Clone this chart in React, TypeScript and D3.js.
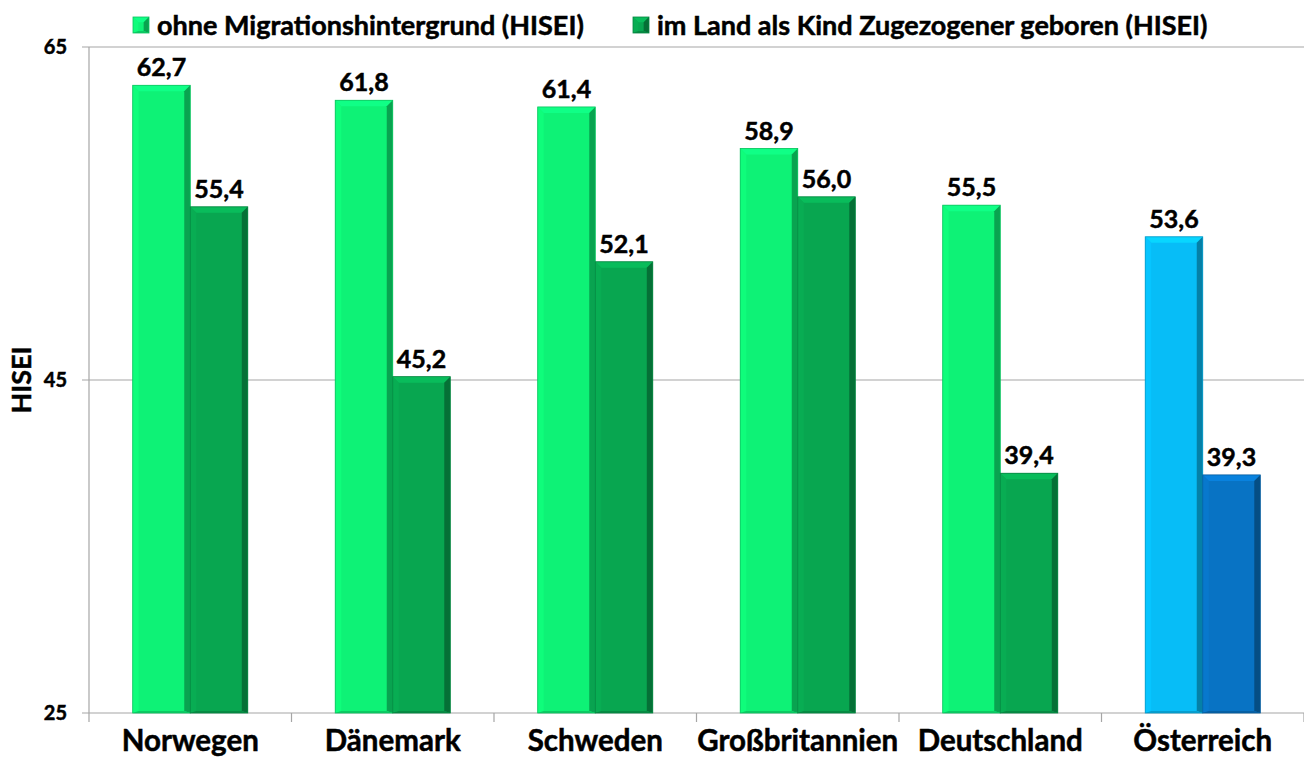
import React from "react";
import * as d3 from "d3";

// data
const countries = ["Norwegen", "Dänemark", "Schweden", "Großbritannien", "Deutschland", "Österreich"];
const seriesNames = ["ohne Migrationshintergrund (HISEI)", "im Land als Kind Zugezogener geboren (HISEI)"];
const ohneMigration = [62.7, 61.8, 61.4, 58.9, 55.5, 53.6];
const kindZugezogen = [55.4, 45.2, 52.1, 56.0, 39.4, 39.3];
const yTicks = [25, 45, 65];

const W = 1304;
const H = 758;
const margin = { top: 47, right: 0, bottom: 45, left: 89 };
const FONT = "Lato, 'Open Sans', sans-serif";

const greens = ["#0ef276", "#08a650"];
const blues = ["#07bdf7", "#0873c4"];

const fmt = (v: number) => d3.format(".1f")(v).replace(".", ",");

// lighter / darker helpers for the bevel faces
const shade = (c: string, k: number) => {
  const col = d3.color(c)!;
  return (k > 0 ? col.brighter(k) : col.darker(-k)).formatHex();
};

// bold text a bit heavier, Calibri-like
const heavy = { fontWeight: "bold" as const, stroke: "#000", strokeWidth: 0.5 };

const Bar = ({ x, y, w, h, color }: { x: number; y: number; w: number; h: number; color: string }) => {
  const b = Math.min(6, w / 3);
  const top = `M${x},${y} L${x + w},${y} L${x + w - b},${y + b} L${x + b},${y + b} Z`;
  const right = `M${x + w},${y} L${x + w},${y + h} L${x + w - b},${y + h - 2} L${x + w - b},${y + b} Z`;
  const left = `M${x},${y} L${x + b},${y + b} L${x + b},${y + h - 2} L${x},${y + h} Z`;
  const bottom = `M${x},${y + h} L${x + b},${y + h - 2} L${x + w - b},${y + h - 2} L${x + w},${y + h} Z`;
  return (
    <g>
      <rect x={x} y={y} width={w} height={h} fill={color} />
      <path d={top} fill={shade(color, 0.35)} />
      <path d={left} fill={shade(color, 0.12)} />
      <path d={right} fill={shade(color, -1.1)} />
      <path d={bottom} fill={shade(color, -0.5)} />
      <rect x={x} y={y} width={w} height={h} fill="none" stroke={shade(color, -0.6)} strokeWidth={0.8} />
    </g>
  );
};

const App = () => {
  const x0 = d3.scaleBand<string>().domain(countries).range([margin.left, W - margin.right]).paddingInner(0).paddingOuter(0);
  const x1 = d3.scaleBand<number>().domain([0, 1]).range([0, x0.bandwidth()]).paddingInner(0).paddingOuter(0.76);
  const y = d3.scaleLinear().domain([25, 65]).range([H - margin.bottom, margin.top]);

  const series = [ohneMigration, kindZugezogen];
  const boundaries = countries.map((c) => x0(c)!).concat([W - margin.right]);

  return (
    <svg width={W} height={H} style={{ position: "absolute", left: 0, top: 0, background: "#fff" }} fontFamily={FONT}>
      {/* gridlines */}
      {yTicks.map((t) => (
        <g key={t}>
          <line x1={margin.left - 7} x2={W - margin.right} y1={y(t)} y2={y(t)} stroke="#a6a6a6" strokeWidth={1.2} />
          <text x={67} y={y(t)} dy="0.35em" textAnchor="end" fontSize={20} {...heavy}>
            {t}
          </text>
        </g>
      ))}
      {/* left axis */}
      <line x1={margin.left} x2={margin.left} y1={margin.top} y2={H - margin.bottom} stroke="#a6a6a6" strokeWidth={1.2} />
      {/* category tick marks */}
      {boundaries.map((b, i) => (
        <line key={i} x1={b} x2={b} y1={H - margin.bottom} y2={H - margin.bottom + 9} stroke="#a6a6a6" strokeWidth={1.2} />
      ))}

      {/* bars */}
      {countries.map((c, i) => {
        const pal = c === "Österreich" ? blues : greens;
        return (
          <g key={c}>
            {series.map((s, j) => {
              const bx = x0(c)! + x1(j)!;
              const by = y(s[i]);
              return (
                <g key={j}>
                  <Bar x={bx} y={by} w={x1.bandwidth()} h={y(25) - by} color={pal[j]} />
                  <text x={bx + x1.bandwidth() / 2} y={by - 9} textAnchor="middle" fontSize={25} {...heavy}>
                    {fmt(s[i])}
                  </text>
                </g>
              );
            })}
            <text x={x0(c)! + x0.bandwidth() / 2} y={751} textAnchor="middle" fontSize={29.5} {...heavy}>
              {c}
            </text>
          </g>
        );
      })}

      {/* y axis title */}
      <text transform={`translate(31,${(margin.top + H - margin.bottom) / 2}) rotate(-90)`} textAnchor="middle" fontSize={27} {...heavy}>
        HISEI
      </text>

      {/* legend */}
      {seriesNames.map((n, j) => {
        const lx = j === 0 ? 133 : 633;
        return (
          <g key={n}>
            <Bar x={lx} y={17} w={16} h={16} color={greens[j]} />
            <text x={lx + 24} y={25} dy="0.36em" fontSize={27} {...heavy}>
              {n}
            </text>
          </g>
        );
      })}
    </svg>
  );
};

export default App;
